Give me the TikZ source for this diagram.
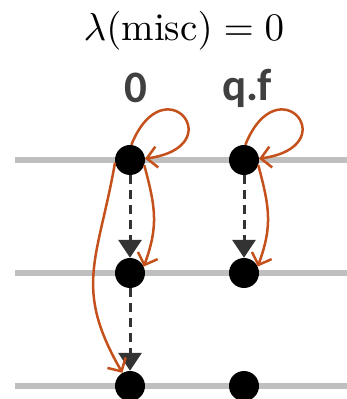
\documentclass[tikz,border=0pt]{standalone}
\usepackage{fontspec}
\setsansfont{Carlito}
\usetikzlibrary{arrows.meta}
\definecolor{rail}{HTML}{BFBFBF}
\definecolor{rust}{HTML}{C4501B}
\definecolor{slate}{HTML}{333333}
\definecolor{labelgray}{HTML}{404040}

\tikzset{
  dot/.style={circle, fill=black, minimum size=30pt, inner sep=0pt},
  railline/.style={rail, line width=6pt},
  succ/.style={slate, line width=3pt, dash pattern=on 9pt off 6pt,
    -{Triangle[length=18pt,width=23pt]}},
  jump/.style={rust, line width=2.5pt, -{Straight Barb[length=10pt,width=21pt]}},
  collabel/.style={font=\sffamily\bfseries\fontsize{45}{45}\selectfont, text=labelgray}
}

\begin{document}
\begin{tikzpicture}[x=1pt,y=1pt]
\useasboundingbox (0,0) rectangle (347,399);

% rails
\foreach \row in {239,126,13}
  \draw[railline] (15,\row) -- (347,\row);

% title and column labels
\node[scale=3.9] (title) at (184,368) {$\lambda(\mathrm{misc})=0$};
\node[collabel] (lzero) at (136,311) {0};
\node[collabel] (lqf) at (247,311) {q.f};

% states
\node[dot] (a1) at (130,239) {};
\node[dot] (a2) at (130,126) {};
\node[dot] (a3) at (130,13) {};
\node[dot] (b1) at (244,239) {};
\node[dot] (b2) at (244,126) {};
\node[dot] (b3) at (244,13) {};

% successor edges
\draw[succ] (a1) -- (a2);
\draw[succ] (a2) -- (a3);
\draw[succ] (b1) -- (b2);

% misc edges
\draw[jump] (a1.85) to[out=68,in=8,distance=88pt] (a1.5);
\draw[jump] (b1.85) to[out=68,in=8,distance=88pt] (b1.5);
\draw[jump] (a1.-20) to[out=-75,in=70,looseness=1.1] (a2.25);
\draw[jump] (b1.-20) to[out=-75,in=70,looseness=1.1] (b2.25);
\draw[jump] (a1.190) to[out=-100,in=120,looseness=1.2] (a3);
\end{tikzpicture}
\end{document}
